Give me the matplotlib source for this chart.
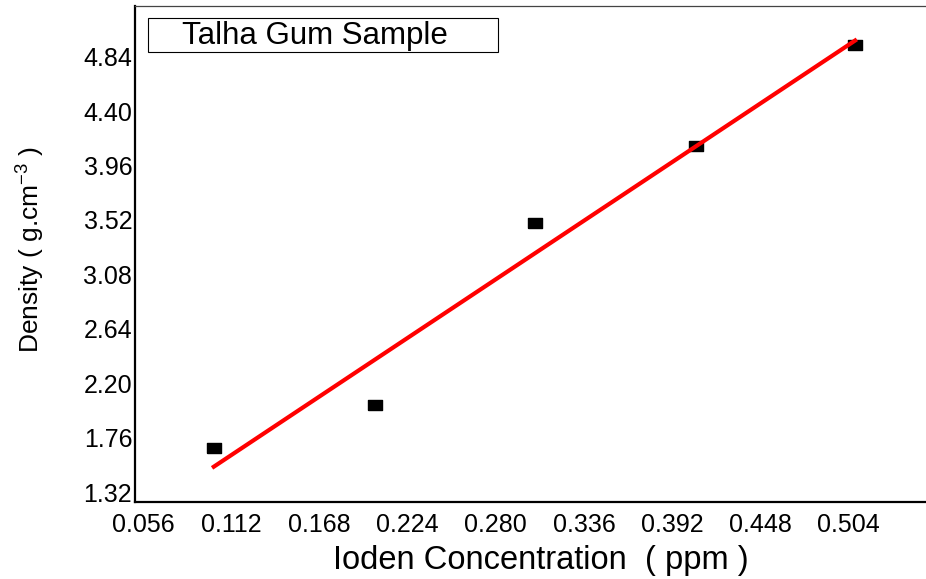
import matplotlib
matplotlib.use("Agg")
import matplotlib.pyplot as plt
import numpy as np

# data
iodine_conc = [0.101, 0.203, 0.305, 0.407, 0.508]
density = [1.676, 2.024, 3.496, 4.12, 4.937]
x_ticks = [0.056, 0.112, 0.168, 0.224, 0.280, 0.336, 0.392, 0.448, 0.504]
y_ticks = [1.32, 1.76, 2.20, 2.64, 3.08, 3.52, 3.96, 4.40, 4.84]
legend_label = "Talha Gum Sample"

plt.rcParams['font.family'] = ['Liberation Sans', 'DejaVu Sans']

fig = plt.figure(figsize=(9.26, 5.79), dpi=100)
ax = fig.add_axes([135/926, 77/579, (926-135)/926, (502-6)/579])

# linear fit through the points
slope, intercept = np.polyfit(iodine_conc, density, 1)
fit_x = np.array([iodine_conc[0], iodine_conc[-1]])
fit_y = slope*fit_x + intercept

rect = [(-1, -0.75), (1, -0.75), (1, 0.75), (-1, 0.75), (-1, -0.75)]
ax.plot(iodine_conc, density, linestyle='none', marker=rect, markersize=10.5,
        color='black', zorder=3)
ax.plot(fit_x, fit_y, color='#ff0000', linewidth=3, zorder=4)

ax.set_xlim(0.051, 0.553)
ax.set_ylim(1.24, 5.25)
ax.set_xticks(x_ticks)
ax.set_xticklabels(["%.3f" % v for v in x_ticks])
ax.set_yticks(y_ticks)
ax.set_yticklabels(["%.2f" % v for v in y_ticks])
ax.tick_params(length=0, labelsize=18)
ax.tick_params(axis='x', pad=8)
ax.tick_params(axis='y', pad=2)

for s in ['left', 'bottom']:
    ax.spines[s].set_linewidth(1.6)
    ax.spines[s].set_color('black')
ax.spines['top'].set_linewidth(0.9)
ax.spines['top'].set_color('#444444')
ax.spines['right'].set_visible(False)

ax.set_xlabel("Ioden Concentration  ( ppm )", fontsize=23.5)
ax.xaxis.set_label_coords(0.513, (502-545)/496)
ax.set_ylabel("Density ( g.cm$^{\\mathregular{-3}}$ )", fontsize=19)
ax.yaxis.set_label_coords((46-135)/791, 0.51)

# legend box with text only
box = plt.Rectangle(((148-135)/791, (502-52)/496), 350/791, 34/496,
                    transform=ax.transAxes, facecolor='white',
                    edgecolor='black', linewidth=0.8, zorder=5)
ax.add_patch(box)
ax.text((182-135)/791, (502-36)/496, legend_label, transform=ax.transAxes,
        fontsize=22.5, va='center', ha='left', zorder=6)

fig.savefig("out.png", dpi=100)
